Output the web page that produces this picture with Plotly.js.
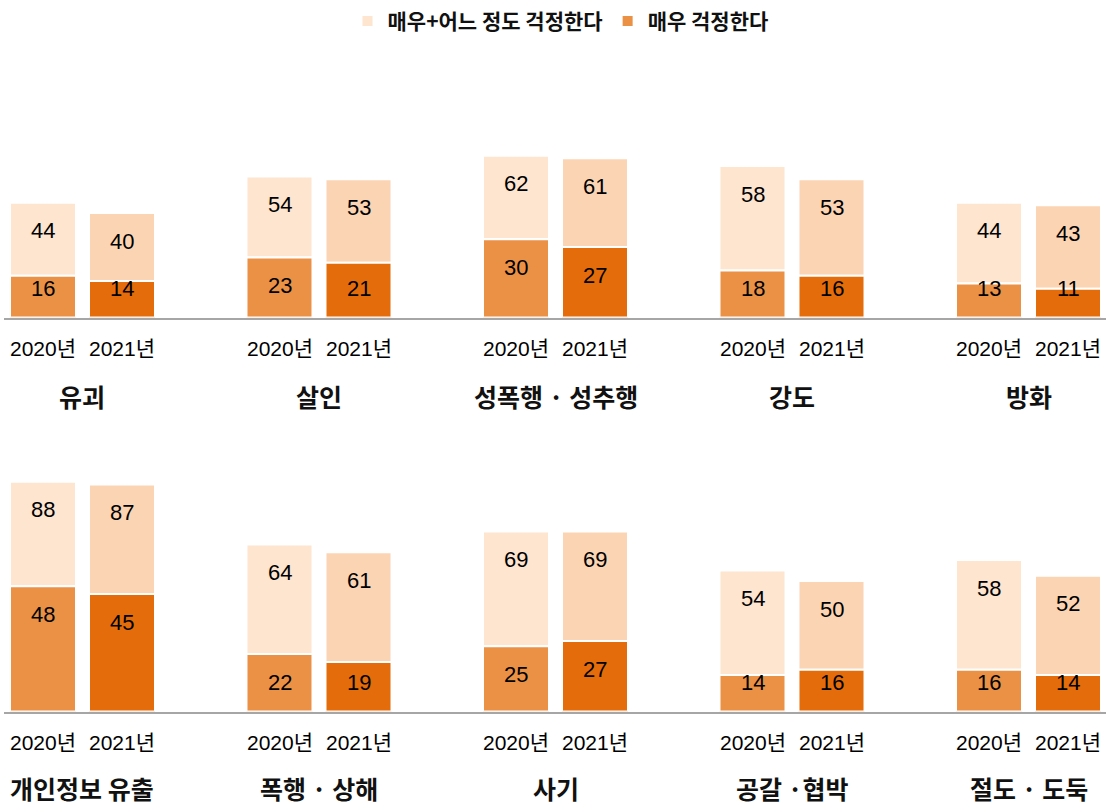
<!DOCTYPE html>
<html><head><meta charset="utf-8">
<script src="https://cdn.plot.ly/plotly-3.0.1.min.js"></script>
<style>body{margin:0;background:#fff}#chart{width:1109px;height:806px}</style>
</head><body><div id="chart"></div>
<script>
const categories = ['유괴','살인','성폭행 · 성추행','강도','방화','개인정보 유출','폭행 · 상해','사기','공갈 ·협박','절도 · 도둑'];
const years = ['2020년','2021년'];
const seriesNames = ['매우+어느 정도 걱정한다','매우 걱정한다'];
const total2020 = [44,54,62,58,44,88,64,69,54,58];
const very2020  = [16,23,30,18,13,48,22,25,14,16];
const total2021 = [40,53,61,53,43,87,61,69,50,52];
const very2021  = [14,21,27,16,11,45,19,27,16,14];

const colors = {
  light: ['#FDE5D0','#FBD4B3'],
  dark:  ['#EB9146','#E46C0A']
};
const numFont = 'Liberation Sans, Arial, Noto Sans CJK KR, sans-serif';
const korFont = 'Noto Sans CJK KR, Liberation Sans, sans-serif';

const W = 1109, H = 806;
const ppu = 2.61;           // pixels per percent
const yMax = 100;
const domH = yMax*ppu/H;
const base1 = (H-317.5)/H, base2 = (H-711.5)/H;

const totals = [total2020,total2021];
const verys = [very2020,very2021];
const rows = [[0,5],[5,10]];
const data = [];
const annotations = [];

rows.forEach((rg,r)=>{
  const cats = categories.slice(rg[0],rg[1]);
  const xa = r? 'x2':'x', ya = r? 'y2':'y';
  years.forEach((yr,k)=>{
    const tot = totals[k].slice(rg[0],rg[1]);
    const v = verys[k].slice(rg[0],rg[1]);
    data.push({
      type:'bar', x:cats, y:tot.map((t,i)=>t-v[i]), base:v,
      name:seriesNames[0], legendgroup:'light', showlegend:(r===0&&k===0),
      offsetgroup:yr, xaxis:xa, yaxis:ya,
      marker:{color:colors.light[k], line:{color:'#ffffff', width:2}},
      hoverinfo:'skip', textposition:'none'
    });
    data.push({
      type:'bar', x:cats, y:v,
      name:seriesNames[1], legendgroup:'dark', showlegend:(r===0&&k===0),
      offsetgroup:yr, xaxis:xa, yaxis:ya,
      marker:{color:colors.dark[k], line:{color:'#ffffff', width:2}},
      hoverinfo:'skip', textposition:'none'
    });
    const shift = k===0 ? -39.5 : 39.5;
    cats.forEach((c,i)=>{
      annotations.push({xref:xa, yref:ya, x:c, y:tot[i], xshift:shift, yshift:-28,
        yanchor:'middle', text:String(tot[i]), showarrow:false,
        font:{family:numFont, size:22, color:'#000'}});
      annotations.push({xref:xa, yref:ya, x:c, y:Math.max(v[i]-28/ppu, 29/ppu), xshift:shift,
        yanchor:'middle', text:String(v[i]), showarrow:false,
        font:{family:numFont, size:22, color:'#000'}});
      annotations.push({xref:xa, yref:ya, x:c, y:0, xshift:shift, yshift:-30.5,
        yanchor:'middle', text:yr, showarrow:false,
        font:{family:numFont, size:21, color:'#000'}});
    });
  });
  cats.forEach((c)=>{
    annotations.push({xref:xa, yref:ya, x:c, y:0, yshift: r? -76.5 : -78.5,
      yanchor:'middle', text:c, showarrow:false,
      font:{family:korFont, size:25, color:'#111', weight:700}});
  });
});

const xrange = [-0.3319, 4.3277];
const xax = (anchor, cats)=>({anchor, type:'category', categoryarray:cats, categoryorder:'array',
  range:xrange, showline:true, linecolor:'#A6A6A6', linewidth:2, showticklabels:false,
  ticks:'', showgrid:false, zeroline:false, fixedrange:true});
const yax = (anchor, dom)=>({anchor, domain:dom, range:[0,yMax], visible:false, fixedrange:true});

const layout = {
  width:W, height:H,
  margin:{l:4, r:3, t:0, b:0},
  paper_bgcolor:'#fff', plot_bgcolor:'#fff',
  barmode:'group', bargap:0.3319, bargroupgap:0.1646,
  xaxis: xax('y', categories.slice(0,5)),
  xaxis2: xax('y2', categories.slice(5,10)),
  yaxis: yax('x', [base1, base1+domH]),
  yaxis2: yax('x2', [base2, base2+domH]),
  showlegend:true,
  legend:{orientation:'h', x:0.505, xanchor:'center', y:0.999, yanchor:'top',
    font:{family:korFont, size:21, color:'#111', weight:700}, itemwidth:30,
    traceorder:'normal', bgcolor:'rgba(0,0,0,0)'},
  annotations
};
Plotly.newPlot('chart', data, layout, {displayModeBar:false, staticPlot:true});
</script>
</body></html>
